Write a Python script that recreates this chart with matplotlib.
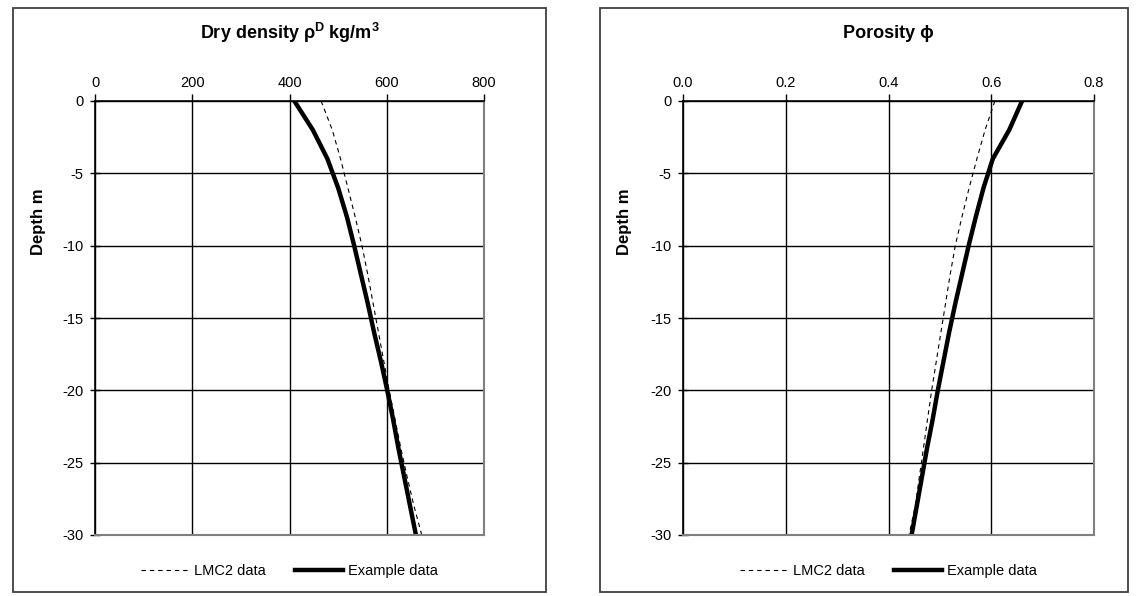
import matplotlib
matplotlib.use("Agg")
import matplotlib.pyplot as plt
from matplotlib.patches import Rectangle

plt.rcParams['font.family'] = ['Liberation Sans', 'DejaVu Sans']
plt.rcParams['axes.unicode_minus'] = False
plt.rcParams['mathtext.fontset'] = 'custom'
plt.rcParams['mathtext.rm'] = 'Liberation Sans'
plt.rcParams['mathtext.bf'] = 'Liberation Sans:bold'

# depth (m) and values
depth = [0, -2, -4, -6, -8, -10, -12, -14, -16, -18, -20, -22, -24, -26, -28, -30]
density_lmc2 = [465, 488, 505, 520, 535, 549, 561, 572, 583, 594, 605, 617, 629, 642, 656, 672]
density_example = [410, 448, 478, 500, 518, 533, 547, 561, 574, 588, 601, 613, 624, 636, 648, 660]
porosity_lmc2 = [0.607, 0.588, 0.572, 0.557, 0.543, 0.530, 0.520, 0.511, 0.502, 0.493, 0.484, 0.476, 0.468, 0.460, 0.452, 0.440]
porosity_example = [0.660, 0.635, 0.603, 0.585, 0.570, 0.556, 0.543, 0.530, 0.518, 0.507, 0.496, 0.486, 0.475, 0.465, 0.455, 0.445]

W, H = 1137, 596
fig = plt.figure(figsize=(W / 100, H / 100), dpi=100)

# outer boxes round each panel
for x0, x1 in [(13, 546), (600, 1128)]:
    fig.patches.append(Rectangle((x0 / W, 4 / H), (x1 - x0) / W, (588 - 4) / H,
                                 transform=fig.transFigure, fill=False,
                                 edgecolor='#404040', linewidth=1.3))


def panel(left, right, xmax, xticks, xlabels, title, lmc2, example, ylab_x):
    ax = fig.add_axes([left / W, (H - 535) / H, (right - left) / W, (535 - 101) / H])
    ax.plot(lmc2, depth, color='black', linestyle=(0, (4, 3.5)), linewidth=0.8, label='LMC2 data')
    ax.plot(example, depth, color='black', linewidth=3.2, label='Example data')
    ax.set_xlim(0, xmax)
    ax.set_ylim(-30, 0)
    ax.set_xticks(xticks)
    ax.set_xticklabels(xlabels)
    ax.set_yticks([0, -5, -10, -15, -20, -25, -30])
    ax.xaxis.tick_top()
    ax.tick_params(axis='x', direction='out', length=5, width=1, labelsize=10.5, pad=3)
    ax.tick_params(axis='y', direction='inout', length=7, width=1, labelsize=10.5, pad=5)
    ax.grid(True, color='black', linewidth=1)
    for s in ['left', 'top']:
        ax.spines[s].set_color('black')
        ax.spines[s].set_linewidth(1.2)
    for s in ['right', 'bottom']:
        ax.spines[s].set_color('#808080')
        ax.spines[s].set_linewidth(1.5)
    fig.text((left + right) / 2 / W, 1 - 33 / H, title, ha='center', va='center',
             fontsize=13, fontweight='bold')
    fig.text(ylab_x / W, 1 - 222 / H, 'Depth m', rotation=90, ha='center', va='center',
             fontsize=12, fontweight='bold')
    ax.legend(loc='center', bbox_to_anchor=(0.5, -0.083), ncol=2, frameon=False,
              fontsize=10.5, handlelength=3.3, columnspacing=2.0, handletextpad=0.35)
    return ax


panel(95, 484, 800, [0, 200, 400, 600, 800], ['0', '200', '400', '600', '800'],
      r'Dry density ρ$^{\mathbf{D}}$ kg/m$^{\mathbf{3}}$', density_lmc2, density_example, 38)
panel(683, 1094, 0.8, [0, 0.2, 0.4, 0.6, 0.8], ['0.0', '0.2', '0.4', '0.6', '0.8'],
      'Porosity ϕ', porosity_lmc2, porosity_example, 625)

fig.savefig('out.png', dpi=100)
